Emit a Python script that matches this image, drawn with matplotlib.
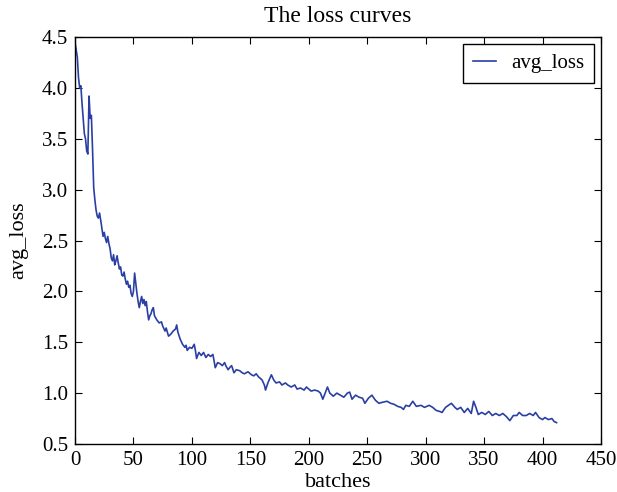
import matplotlib
matplotlib.use("Agg")
import matplotlib.pyplot as plt

batches = [0, 2, 3, 4, 5, 6, 8, 9, 10, 11, 12, 13, 14, 15, 16, 17, 18, 19, 20, 21,
           22, 23, 24, 25, 26, 27, 28, 29, 30, 31, 32, 33, 34, 35, 36, 37, 38, 39, 40, 41,
           42, 43, 44, 45, 46, 47, 48, 49, 50, 51, 52, 53, 54, 55, 56, 57, 58, 59, 60, 61,
           62, 63, 64, 65, 66, 67, 68, 69, 70, 72, 74, 75, 77, 78, 80, 82, 84, 86, 87, 88,
           90, 92, 94, 95, 96, 98, 100, 102, 103, 104, 106, 108, 110, 112, 114, 116, 118, 120, 122, 124,
           126, 128, 129, 131, 133, 134, 136, 138, 141, 143, 145, 148, 151, 153, 155, 157, 160, 162, 163, 165,
           168, 170, 172, 175, 177, 180, 182, 185, 188, 190, 193, 196, 198, 200, 202, 205, 208, 210, 212, 214,
           216, 218, 221, 224, 227, 230, 233, 235, 237, 240, 243, 246, 248, 251, 254, 257, 260, 263, 267, 270,
           273, 276, 279, 281, 283, 286, 289, 292, 296, 299, 303, 306, 309, 312, 314, 317, 322, 325, 327, 330,
           333, 336, 339, 341, 343, 345, 348, 351, 354, 357, 360, 363, 366, 369, 372, 375, 378, 380, 383, 386,
           389, 392, 394, 397, 400, 402, 405, 408, 410, 412]

avg_loss = [4.45, 4.30, 4.10, 4.00, 4.02, 3.85, 3.55, 3.50, 3.38, 3.35, 3.92, 3.70, 3.73, 3.40, 3.02, 2.90, 2.80, 2.74, 2.72, 2.77,
            2.70, 2.62, 2.54, 2.58, 2.52, 2.48, 2.54, 2.47, 2.42, 2.33, 2.30, 2.36, 2.26, 2.30, 2.35, 2.28, 2.22, 2.24, 2.16, 2.15,
            2.19, 2.12, 2.07, 2.10, 2.04, 2.06, 1.98, 1.95, 2.00, 2.18, 2.08, 1.98, 1.90, 1.84, 1.90, 1.95, 1.88, 1.92, 1.86, 1.90,
            1.80, 1.72, 1.76, 1.78, 1.82, 1.84, 1.76, 1.74, 1.72, 1.69, 1.70, 1.66, 1.61, 1.64, 1.56, 1.58, 1.61, 1.63, 1.67, 1.60,
            1.53, 1.48, 1.45, 1.47, 1.42, 1.45, 1.44, 1.48, 1.42, 1.34, 1.40, 1.37, 1.40, 1.35, 1.38, 1.36, 1.38, 1.25, 1.30, 1.29,
            1.27, 1.30, 1.27, 1.23, 1.26, 1.27, 1.20, 1.23, 1.22, 1.20, 1.19, 1.21, 1.18, 1.17, 1.19, 1.16, 1.13, 1.08, 1.03, 1.10,
            1.18, 1.13, 1.10, 1.11, 1.08, 1.10, 1.08, 1.06, 1.08, 1.04, 1.05, 1.03, 1.06, 1.04, 1.02, 1.03, 1.02, 1.00, 0.94, 1.00,
            1.06, 1.00, 0.97, 1.00, 0.98, 0.96, 1.00, 1.01, 0.94, 0.98, 0.96, 0.95, 0.90, 0.95, 0.98, 0.93, 0.90, 0.91, 0.92, 0.90,
            0.89, 0.87, 0.86, 0.84, 0.88, 0.87, 0.92, 0.87, 0.88, 0.86, 0.88, 0.86, 0.83, 0.82, 0.81, 0.86, 0.90, 0.86, 0.84, 0.86,
            0.81, 0.85, 0.80, 0.92, 0.86, 0.79, 0.81, 0.79, 0.82, 0.78, 0.80, 0.78, 0.80, 0.77, 0.73, 0.78, 0.78, 0.81, 0.78, 0.78,
            0.80, 0.78, 0.81, 0.76, 0.74, 0.76, 0.74, 0.75, 0.72, 0.71]

x_ticks = [0, 50, 100, 150, 200, 250, 300, 350, 400, 450]
y_ticks = [0.5, 1.0, 1.5, 2.0, 2.5, 3.0, 3.5, 4.0, 4.5]

plt.rcParams['font.family'] = ['Liberation Serif', 'DejaVu Serif']
plt.rcParams['font.size'] = 15
plt.rcParams['mathtext.fontset'] = 'stix'

fig = plt.figure(figsize=(6.17, 4.92), dpi=100)
ax = fig.add_axes([75/617, 1-444/492, (601-75)/617, (444-37)/492])

ax.plot(batches, avg_loss, color='#2a3fa4', linewidth=1.2, label='avg_loss')
ax.set_xlim(0, 450)
ax.set_ylim(0.5, 4.5)
ax.set_xticks(x_ticks)
ax.set_yticks(y_ticks)
ax.set_yticklabels([f"{v:.1f}" for v in y_ticks])
ax.tick_params(direction='in', top=True, right=True, length=5, labelsize=15, pad=5)
ax.set_title('The loss curves', fontsize=17, pad=11)
ax.set_xlabel('batches', fontsize=16, labelpad=2)
ax.set_ylabel('avg_loss', fontsize=16, labelpad=10)
for s in ax.spines.values():
    s.set_linewidth(1.0)
leg = ax.legend(loc='upper right', fontsize=15, fancybox=False, framealpha=1.0,
                edgecolor='black', handlelength=1.1, handletextpad=0.75,
                borderpad=0.45, borderaxespad=0.35)
leg.get_frame().set_linewidth(1.0)

fig.savefig('out.png', dpi=100)
